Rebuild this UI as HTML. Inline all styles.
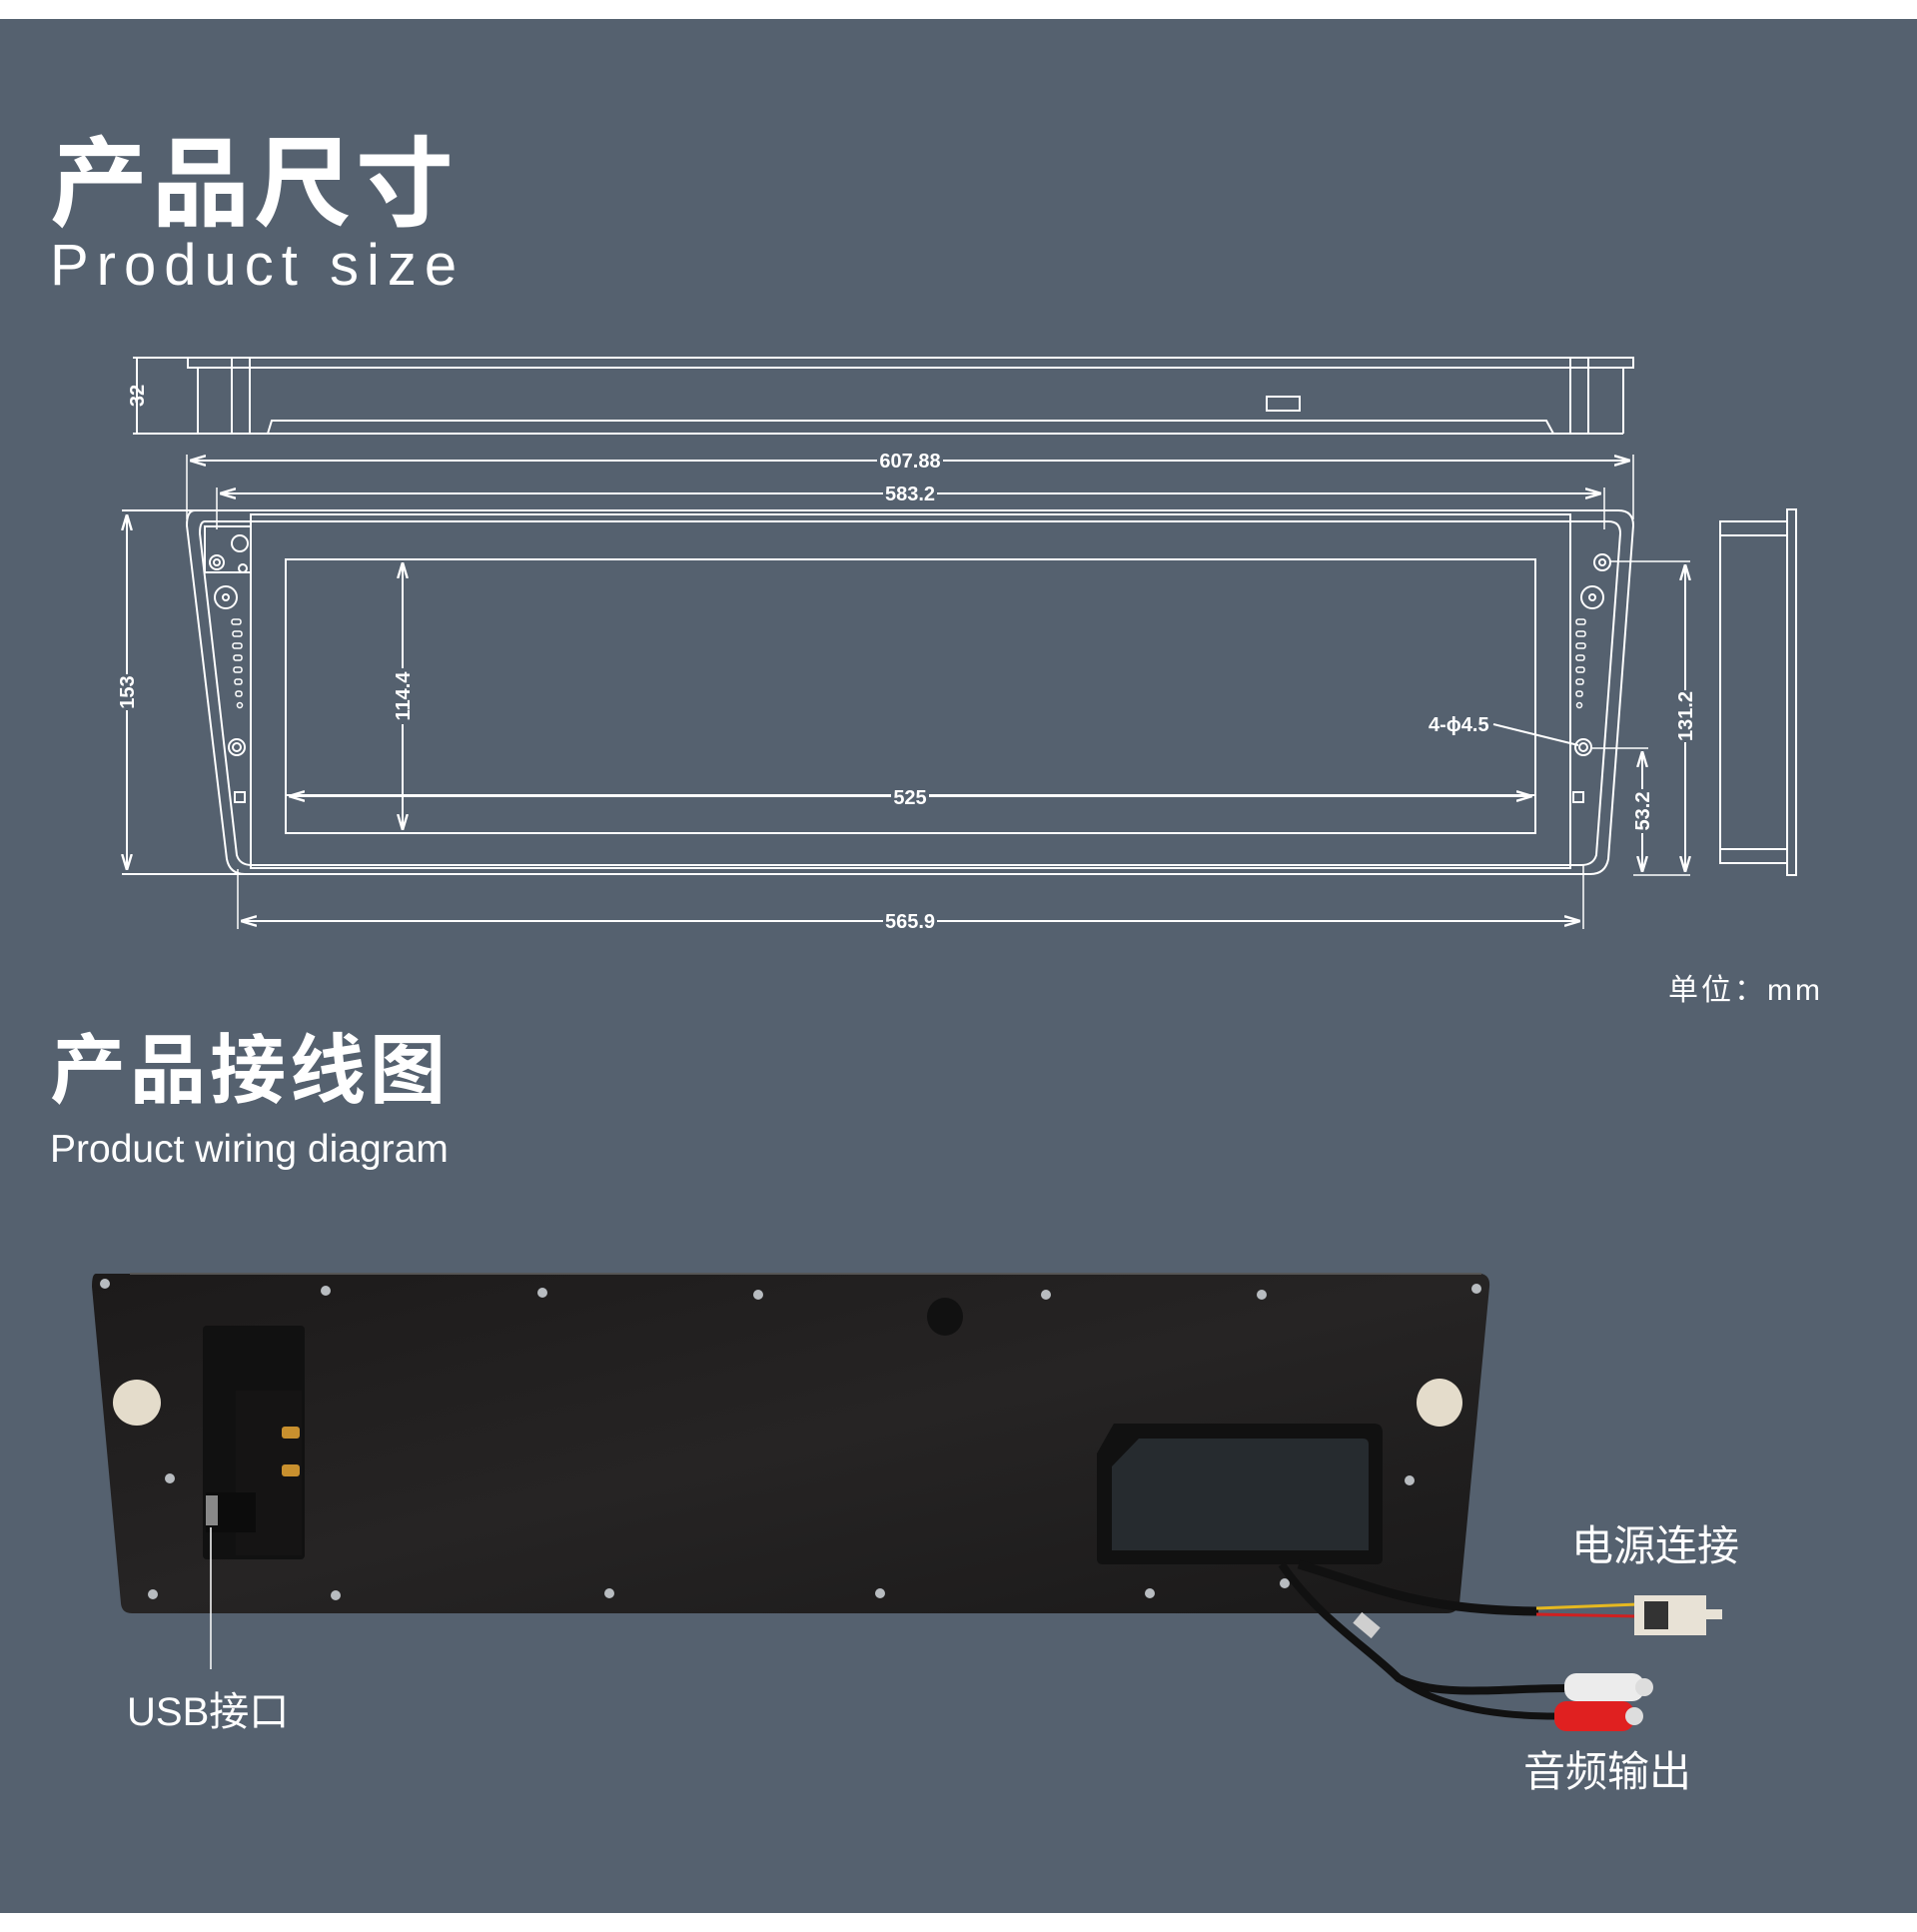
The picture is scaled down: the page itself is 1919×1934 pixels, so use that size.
<!DOCTYPE html>
<html><head><meta charset="utf-8"><style>
html,body{margin:0;padding:0;background:#fff}
svg{display:block}
text{font-family:"Liberation Sans","Noto Sans CJK SC",sans-serif;fill:#fff}
</style></head><body>
<svg width="1919" height="1934" viewBox="0 0 1919 1934" xmlns="http://www.w3.org/2000/svg">
<defs>
<linearGradient id="pg" x1="0" y1="0" x2="1" y2="1">
<stop offset="0" stop-color="#1c1a1a"/><stop offset="0.5" stop-color="#262424"/><stop offset="1" stop-color="#1a1919"/>
</linearGradient>
<marker id="a" viewBox="0 0 10 10" refX="10" refY="5" markerWidth="8" markerHeight="8" orient="auto-start-reverse"><path d="M0,2 L10,5 L0,8" fill="none" stroke="#fff" stroke-width="1.5"/></marker>
</defs>
<rect x="0" y="0" width="1919" height="1934" fill="#fff"/>
<rect x="0" y="19" width="1919" height="1896" fill="#55616f"/>

<text x="50" y="218" font-size="98" font-weight="bold" letter-spacing="4">产品尺寸</text>
<text x="50" y="285" font-size="58" letter-spacing="8">Product size</text>

<g fill="none" stroke="#fff" stroke-width="2">
<line x1="133" y1="358" x2="190" y2="358"/><line x1="133" y1="434" x2="200" y2="434"/>
<line x1="137" y1="358" x2="137" y2="434"/>
<rect x="188" y="358" width="1447" height="10"/>
<line x1="198" y1="368" x2="1625" y2="368"/>
<line x1="198" y1="368" x2="198" y2="434"/><line x1="232" y1="358" x2="232" y2="434"/><line x1="250" y1="358" x2="250" y2="434"/>
<line x1="1572" y1="358" x2="1572" y2="434"/><line x1="1590" y1="358" x2="1590" y2="434"/><line x1="1625" y1="368" x2="1625" y2="434"/>
<line x1="198" y1="434" x2="1625" y2="434"/>
<path d="M268,434 L272,421 L1548,421 L1555,434"/>
<rect x="1268" y="397" width="33" height="14"/>
<line x1="187" y1="455" x2="187" y2="520" stroke-width="1.5"/><line x1="1635" y1="455" x2="1635" y2="520" stroke-width="1.5"/>
<line x1="190" y1="461" x2="1632" y2="461" marker-start="url(#a)" marker-end="url(#a)"/>
<line x1="217" y1="488" x2="217" y2="530" stroke-width="1.5"/><line x1="1606" y1="488" x2="1606" y2="530" stroke-width="1.5"/>
<line x1="220" y1="494" x2="1603" y2="494" marker-start="url(#a)" marker-end="url(#a)"/>
<path d="M195,511 L1620,511 Q1635,511 1635,526 L1610,860 Q1607,875 1592,875 L245,875 Q230,875 227,860 L187,526 Q187,511 195,511 Z"/>
<path d="M205,522 L1610,522 Q1622,522 1622,534 L1598,856 Q1595,866 1583,866 L252,866 Q240,866 237,856 L200,534 Q200,522 205,522 Z"/>
<rect x="251" y="515" width="1321" height="354"/>
<rect x="286" y="560" width="1251" height="274"/>
<line x1="286" y1="796" x2="1537" y2="796"/>
<line x1="122" y1="511" x2="200" y2="511"/><line x1="122" y1="875" x2="245" y2="875"/>
<line x1="127" y1="515" x2="127" y2="871" marker-start="url(#a)" marker-end="url(#a)"/>
<line x1="403" y1="563" x2="403" y2="831" marker-start="url(#a)" marker-end="url(#a)"/>
<line x1="289" y1="797" x2="1534" y2="797" marker-start="url(#a)" marker-end="url(#a)"/>
<line x1="238" y1="870" x2="238" y2="930" stroke-width="1.5"/><line x1="1585" y1="866" x2="1585" y2="930" stroke-width="1.5"/>
<line x1="241" y1="922" x2="1582" y2="922" marker-start="url(#a)" marker-end="url(#a)"/>
<rect x="205" y="527" width="46" height="46"/>
<circle cx="217" cy="563" r="7"/><circle cx="217" cy="563" r="3"/>
<circle cx="240" cy="544" r="8"/><circle cx="243" cy="569" r="4"/>
<circle cx="226" cy="598" r="11"/><circle cx="226" cy="598" r="3"/>
<circle cx="237" cy="748" r="8"/><circle cx="237" cy="748" r="4"/>
<rect x="235" y="793" width="10" height="10"/>
<circle cx="1604" cy="563" r="8"/><circle cx="1604" cy="563" r="3"/>
<circle cx="1594" cy="598" r="11"/><circle cx="1594" cy="598" r="3"/>
<circle cx="1585" cy="748" r="8"/><circle cx="1585" cy="748" r="4"/>
<rect x="1575" y="793" width="10" height="10"/>
<line x1="1612" y1="562" x2="1692" y2="562" stroke-width="1.5"/><line x1="1635" y1="876" x2="1692" y2="876" stroke-width="1.5"/>
<line x1="1687" y1="565" x2="1687" y2="873" marker-start="url(#a)" marker-end="url(#a)"/>
<line x1="1594" y1="749" x2="1650" y2="749" stroke-width="1.5"/>
<line x1="1644" y1="752" x2="1644" y2="873" marker-start="url(#a)" marker-end="url(#a)"/>
<path d="M1495,725 L1580,746"/>
<rect x="1722" y="522" width="67" height="342"/>
<rect x="1789" y="510" width="9" height="366"/>
<line x1="1722" y1="536" x2="1789" y2="536"/><line x1="1722" y1="850" x2="1789" y2="850"/>
</g>
<g fill="none" stroke="#fff" stroke-width="1.5">
<rect x="232" y="620" width="9" height="5" rx="2"/><rect x="233" y="632" width="9" height="5" rx="2"/><rect x="233" y="644" width="9" height="5" rx="2"/><rect x="234" y="656" width="8" height="5" rx="2"/><rect x="234" y="668" width="8" height="5" rx="2"/><rect x="235" y="680" width="7" height="5" rx="2"/><rect x="236" y="692" width="6" height="5" rx="2"/><circle cx="240" cy="706" r="2.5"/>
<rect x="1578" y="620" width="9" height="5" rx="2"/><rect x="1578" y="632" width="9" height="5" rx="2"/><rect x="1578" y="644" width="9" height="5" rx="2"/><rect x="1578" y="656" width="8" height="5" rx="2"/><rect x="1578" y="668" width="8" height="5" rx="2"/><rect x="1578" y="680" width="7" height="5" rx="2"/><rect x="1578" y="692" width="6" height="5" rx="2"/><circle cx="1581" cy="706" r="2.5"/>
</g>
<g font-size="20" font-weight="bold" text-anchor="middle">
<rect x="878" y="449" width="66" height="24" fill="#55616f"/><text x="911" y="468">607.88</text>
<rect x="884" y="482" width="54" height="24" fill="#55616f"/><text x="911" y="501">583.2</text>
<rect x="892" y="786" width="38" height="24" fill="#55616f"/><text x="911" y="805">525</text>
<rect x="884" y="910" width="54" height="24" fill="#55616f"/><text x="911" y="929">565.9</text>
<text x="1430" y="732" text-anchor="start">4-ϕ4.5</text>
<g transform="translate(134,693) rotate(-90)"><rect x="-18" y="-18" width="36" height="22" fill="#55616f"/><text x="0" y="0">153</text></g>
<g transform="translate(410,697) rotate(-90)"><rect x="-28" y="-18" width="56" height="22" fill="#55616f"/><text x="0" y="0">114.4</text></g>
<g transform="translate(1694,717) rotate(-90)"><rect x="-26" y="-18" width="52" height="22" fill="#55616f"/><text x="0" y="0">131.2</text></g>
<g transform="translate(1651,812) rotate(-90)"><rect x="-22" y="-18" width="44" height="22" fill="#55616f"/><text x="0" y="0">53.2</text></g>
<g transform="translate(144,396) rotate(-90)"><text x="0" y="0">32</text></g>
</g>
<text x="1670" y="1001" font-size="30" letter-spacing="3">单位：mm</text>

<text x="50" y="1098" font-size="76" font-weight="bold" letter-spacing="4">产品接线图</text>
<text x="50" y="1163" font-size="39">Product wiring diagram</text>

<path d="M96,1275 L1483,1275 Q1492,1277 1491,1288 L1461,1605 Q1459,1615 1448,1615 L132,1615 Q122,1615 121,1605 L92,1288 Q92,1275 96,1275 Z" fill="url(#pg)"/>
<line x1="130" y1="1275" x2="1483" y2="1275" stroke="#555" stroke-width="2"/>
<rect x="203" y="1327" width="102" height="234" rx="4" fill="#111"/>
<rect x="236" y="1392" width="66" height="165" fill="#151414"/>
<rect x="206" y="1494" width="50" height="40" fill="#0c0c0c"/>
<rect x="206" y="1497" width="12" height="30" fill="#888"/>
<rect x="282" y="1428" width="18" height="12" rx="3" fill="#c8902e"/><rect x="282" y="1466" width="18" height="12" rx="3" fill="#c8902e"/>
<ellipse cx="137" cy="1404" rx="24" ry="23" fill="#e4dccb"/>
<ellipse cx="1441" cy="1404" rx="23" ry="24" fill="#e4dccb"/>
<ellipse cx="946" cy="1318" rx="18" ry="19" fill="#111"/>
<path d="M1115,1425 L1375,1425 Q1384,1425 1384,1434 L1384,1560 Q1384,1566 1378,1566 L1104,1566 Q1098,1566 1098,1560 L1098,1455 Z" fill="#111"/>
<path d="M1140,1440 L1364,1440 Q1370,1440 1370,1446 L1370,1552 L1113,1552 L1113,1468 Z" fill="#262b2f"/>
<g fill="#b8bcc0">
<circle cx="105" cy="1285" r="5"/><circle cx="326" cy="1292" r="5"/><circle cx="543" cy="1294" r="5"/><circle cx="759" cy="1296" r="5"/><circle cx="1047" cy="1296" r="5"/><circle cx="1263" cy="1296" r="5"/><circle cx="1478" cy="1290" r="5"/>
<circle cx="170" cy="1480" r="5"/><circle cx="1411" cy="1482" r="5"/>
<circle cx="153" cy="1596" r="5"/><circle cx="336" cy="1597" r="5"/><circle cx="610" cy="1595" r="5"/><circle cx="881" cy="1595" r="5"/><circle cx="1151" cy="1595" r="5"/><circle cx="1286" cy="1585" r="5"/>
</g>
<!-- cables -->
<path d="M1300,1566 C1380,1590 1420,1612 1540,1613" fill="none" stroke="#111" stroke-width="9"/>
<path d="M1538,1610 L1640,1606" stroke="#e5b820" stroke-width="3"/><path d="M1538,1616 L1640,1618" stroke="#d02020" stroke-width="3"/>
<rect x="1636" y="1597" width="72" height="40" fill="#e8e2d6"/><rect x="1646" y="1603" width="24" height="28" fill="#333"/>
<rect x="1708" y="1611" width="16" height="10" fill="#e8e2d6"/>
<path d="M1283,1566 C1320,1620 1370,1650 1400,1680 C1440,1700 1500,1690 1568,1690" fill="none" stroke="#111" stroke-width="8"/>
<path d="M1400,1680 C1440,1710 1500,1718 1558,1718" fill="none" stroke="#111" stroke-width="7"/>
<rect x="1356" y="1620" width="24" height="14" fill="#cfcfcf" transform="rotate(40 1368 1627)"/>
<rect x="1566" y="1675" width="80" height="28" rx="12" fill="#ececec"/>
<rect x="1556" y="1703" width="80" height="30" rx="12" fill="#e02020"/>
<circle cx="1646" cy="1689" r="9" fill="#ddd"/><circle cx="1636" cy="1718" r="9" fill="#ddd"/>

<line x1="211" y1="1529" x2="211" y2="1671" stroke="#fff" stroke-width="1.5"/>
<text x="127" y="1727" font-size="40">USB接口</text>
<text x="1573" y="1562" font-size="42">电源连接</text>
<text x="1525" y="1788" font-size="42">音频输出</text>
</svg>
</body></html>
